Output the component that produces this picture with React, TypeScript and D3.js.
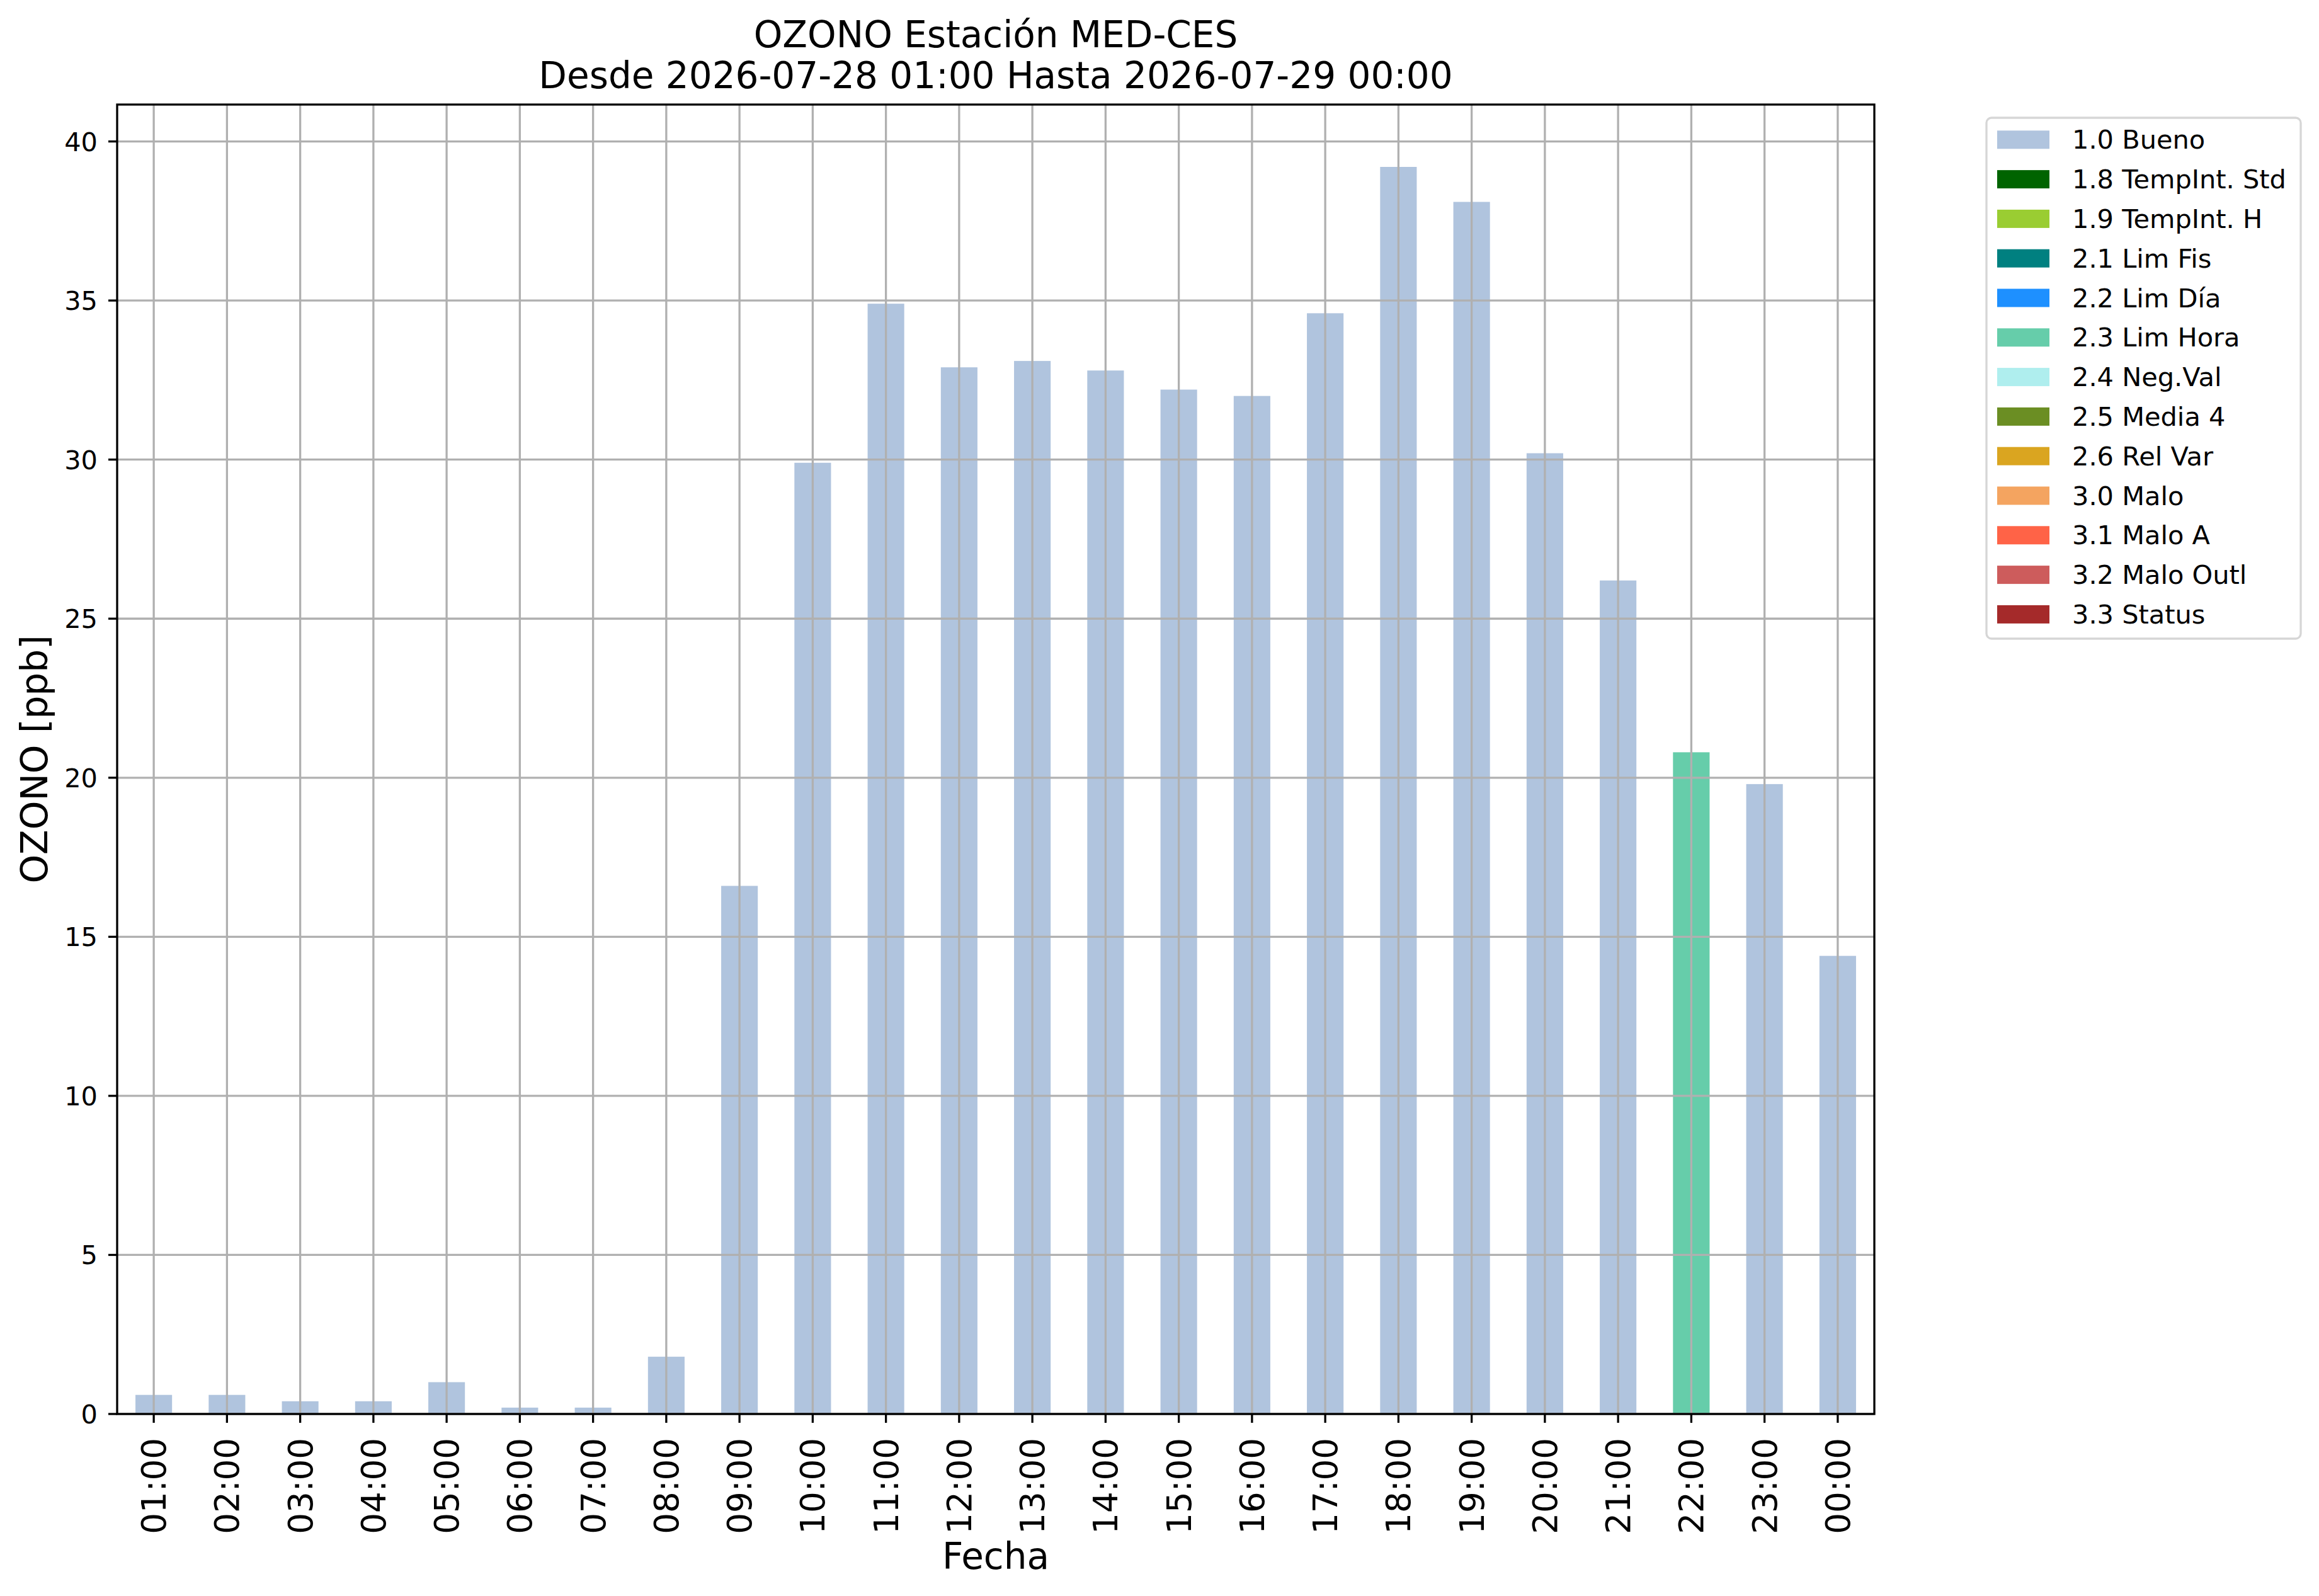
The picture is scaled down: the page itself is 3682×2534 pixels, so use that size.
import * as d3 from "d3";

// hourly ozone values, 2026-07-28 01:00 .. 2026-07-29 00:00
const hours = [
  "01:00", "02:00", "03:00", "04:00", "05:00", "06:00", "07:00", "08:00",
  "09:00", "10:00", "11:00", "12:00", "13:00", "14:00", "15:00", "16:00",
  "17:00", "18:00", "19:00", "20:00", "21:00", "22:00", "23:00", "00:00",
];
const ozone = [
  0.6, 0.6, 0.4, 0.4, 1.0, 0.2, 0.2, 1.8,
  16.6, 29.9, 34.9, 32.9, 33.1, 32.8, 32.2, 32.0,
  34.6, 39.2, 38.1, 30.2, 26.2, 20.8, 19.8, 14.4,
];
// quality flag of each hour
const flags = [
  "1.0", "1.0", "1.0", "1.0", "1.0", "1.0", "1.0", "1.0",
  "1.0", "1.0", "1.0", "1.0", "1.0", "1.0", "1.0", "1.0",
  "1.0", "1.0", "1.0", "1.0", "1.0", "2.3", "1.0", "1.0",
];

const flagCodes = ["1.0", "1.8", "1.9", "2.1", "2.2", "2.3", "2.4", "2.5", "2.6", "3.0", "3.1", "3.2", "3.3"];
const flagNames = [
  "Bueno", "TempInt. Std", "TempInt. H", "Lim Fis", "Lim Día", "Lim Hora",
  "Neg.Val", "Media 4", "Rel Var", "Malo", "Malo A", "Malo Outl", "Status",
];
const flagColors = [
  "#b0c4de", "#006400", "#9acd32", "#008080", "#1e90ff", "#66cdaa",
  "#afeeee", "#6b8e23", "#daa520", "#f4a460", "#ff6347", "#cd5c5c", "#a52a2a",
];
const yTicks = [0, 5, 10, 15, 20, 25, 30, 35, 40];

const W = 3682;
const H = 2534;
const left = 186, right = 2976, top = 166, bottom = 2245;
const font = "'DejaVu Sans', sans-serif";
const grid = "#b0b0b0";

export default function App() {
  const x = d3.scaleBand<string>()
    .domain(hours)
    .range([left, right])
    .paddingInner(0.5)
    .paddingOuter(0.25);
  const y = d3.scaleLinear()
    .domain([0, d3.max(ozone)! * 1.05])
    .range([bottom, top]);
  const color = d3.scaleOrdinal<string, string>().domain(flagCodes).range(flagColors);
  const cx = (h: string) => x(h)! + x.bandwidth() / 2;

  const legX = 3154, legY = 187, legW = 499, legH = 827;
  const rowH = 62.8;

  return (
    <svg width={W} height={H} viewBox={`0 0 ${W} ${H}`}
      style={{ position: "absolute", left: 0, top: 0, background: "#fff" }}
      fontFamily={font}>
      <rect x={0} y={0} width={W} height={H} fill="#fff" />

      {/* bars */}
      {hours.map((h, i) => (
        <rect key={h} x={x(h)} y={y(ozone[i])} width={x.bandwidth()}
          height={y(0) - y(ozone[i])} fill={color(flags[i])} />
      ))}

      {/* grid, drawn over the bars */}
      {yTicks.map(t => (
        <line key={"gy" + t} x1={left} x2={right} y1={y(t)} y2={y(t)} stroke={grid} strokeWidth={3.3} />
      ))}
      {hours.map(h => (
        <line key={"gx" + h} x1={cx(h)} x2={cx(h)} y1={top} y2={bottom} stroke={grid} strokeWidth={3.3} />
      ))}

      {/* frame */}
      <rect x={left} y={top} width={right - left} height={bottom - top}
        fill="none" stroke="#000" strokeWidth={3.3} />

      {/* y axis */}
      {yTicks.map(t => (
        <g key={"ty" + t}>
          <line x1={left - 14} x2={left} y1={y(t)} y2={y(t)} stroke="#000" strokeWidth={3.3} />
          <text x={left - 31} y={y(t)} dy="0.36em" textAnchor="end" fontSize={41.5}>{t}</text>
        </g>
      ))}

      {/* x axis */}
      {hours.map(h => (
        <g key={"tx" + h}>
          <line x1={cx(h)} x2={cx(h)} y1={bottom} y2={bottom + 14} stroke="#000" strokeWidth={3.3} />
          <text transform={`translate(${cx(h)},${bottom + 38}) rotate(-90)`}
            textAnchor="end" dy="0.36em" fontSize={53}>{h}</text>
        </g>
      ))}

      {/* titles */}
      <text x={(left + right) / 2} y={75} textAnchor="middle" fontSize={58}>OZONO Estación MED-CES</text>
      <text x={(left + right) / 2} y={140} textAnchor="middle" fontSize={58}>Desde 2026-07-28 01:00 Hasta 2026-07-29 00:00</text>
      <text x={(left + right) / 2} y={2491} textAnchor="middle" fontSize={58}>Fecha</text>
      <text transform={`translate(75,${(top + bottom) / 2}) rotate(-90)`} textAnchor="middle" fontSize={58}>OZONO [ppb]</text>

      {/* legend */}
      <rect x={legX} y={legY} width={legW} height={legH} rx={8} fill="#fff"
        stroke="#d6d6d6" strokeWidth={3.3} />
      {flagCodes.map((c, i) => {
        const ry = 221.8 + i * rowH;
        return (
          <g key={"lg" + c}>
            <rect x={3171} y={ry - 14.5} width={83} height={29} fill={flagColors[i]} />
            <text x={3290} y={ry + 14.5} fontSize={41.5}>{`${c} ${flagNames[i]}`}</text>
          </g>
        );
      })}
    </svg>
  );
}
